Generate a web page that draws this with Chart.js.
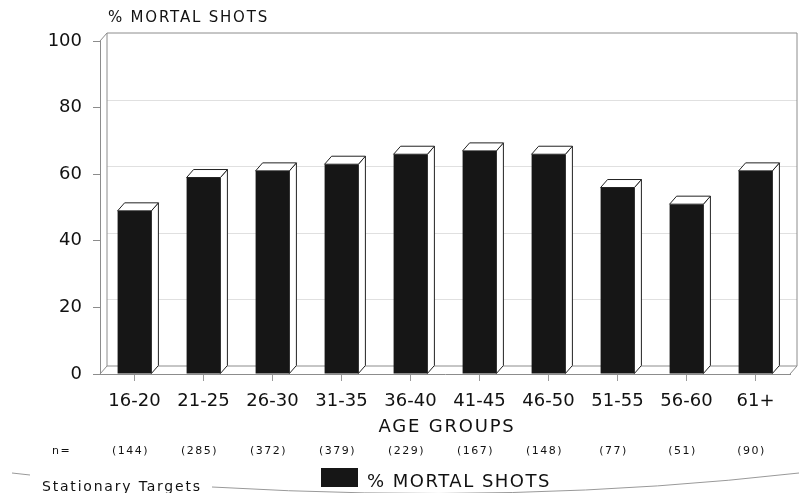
<!DOCTYPE html>
<html>
<head>
<meta charset="utf-8">
<script src="https://cdn.jsdelivr.net/npm/chart.js@4"></script>
<style>
    html, body { margin: 0; padding: 0; background: #fff; }
    canvas { display: block; }
</style>
</head>
<body>
<canvas id="mortalChart" width="799" height="493"></canvas>
<script>
const ageGroups = ["16-20", "21-25", "26-30", "31-35", "36-40", "41-45", "46-50", "51-55", "56-60", "61+"];
const mortalPct = [49, 59, 61, 63, 66, 67, 66, 56, 51, 61];
const sampleSizes = [144, 285, 372, 379, 229, 167, 148, 77, 51, 90];
const gridValues = [20, 40, 60, 80];

const FONT = "DejaVu Sans";
const DX = 7;
const DY = 8;

function spacedText(ctx, text, x, y, size, spacing, align) {
    ctx.font = size + "px '" + FONT + "'";
    ctx.letterSpacing = spacing + "px";
    ctx.textAlign = align || "left";
    ctx.textBaseline = "alphabetic";
    ctx.fillText(text, x, y);
}

const depthPlugin = {
    id: "depth",
    beforeDatasetsDraw(chart) {
        const { ctx, chartArea: a, scales } = chart;
        ctx.save();
        ctx.lineWidth = 1;

        // faint gridlines on the back wall
        ctx.strokeStyle = "#e0e0e0";
        gridValues.forEach((v) => {
            const py = Math.round(scales.y.getPixelForValue(v) - DY) + 0.5;
            ctx.beginPath();
            ctx.moveTo(a.left + DX, py);
            ctx.lineTo(a.right + DX, py);
            ctx.stroke();
        });

        // back wall and floor outline
        ctx.strokeStyle = "#8c8c8c";
        ctx.beginPath();
        ctx.moveTo(a.left, a.top);
        ctx.lineTo(a.left + DX, a.top - DY);
        ctx.lineTo(a.right + DX, a.top - DY);
        ctx.lineTo(a.right + DX, a.bottom - DY);
        ctx.moveTo(a.left + DX, a.top - DY);
        ctx.lineTo(a.left + DX, a.bottom - DY);
        ctx.lineTo(a.right + DX, a.bottom - DY);
        ctx.moveTo(a.left, a.bottom);
        ctx.lineTo(a.left + DX, a.bottom - DY);
        ctx.moveTo(a.right, a.bottom);
        ctx.lineTo(a.right + DX, a.bottom - DY);
        ctx.stroke();
        ctx.restore();
    },
    afterDatasetsDraw(chart) {
        const { ctx } = chart;
        const meta = chart.getDatasetMeta(0);
        ctx.save();
        ctx.lineWidth = 1;
        ctx.strokeStyle = "#222";
        ctx.fillStyle = "#fff";
        meta.data.forEach((bar) => {
            const l = bar.x - bar.width / 2;
            const r = bar.x + bar.width / 2;
            // side face
            ctx.beginPath();
            ctx.moveTo(r, bar.y);
            ctx.lineTo(r + DX, bar.y - DY);
            ctx.lineTo(r + DX, bar.base - DY);
            ctx.lineTo(r, bar.base);
            ctx.closePath();
            ctx.fill();
            ctx.stroke();
            // top face
            ctx.beginPath();
            ctx.moveTo(l, bar.y);
            ctx.lineTo(l + DX, bar.y - DY);
            ctx.lineTo(r + DX, bar.y - DY);
            ctx.lineTo(r, bar.y);
            ctx.closePath();
            ctx.fill();
            ctx.stroke();
        });
        ctx.restore();
    },
    afterDraw(chart) {
        const { ctx, scales } = chart;
        ctx.save();
        ctx.fillStyle = "#111";

        spacedText(ctx, "% MORTAL SHOTS", 108, 22, 15, 1.8);
        spacedText(ctx, "AGE GROUPS", 447, 432, 18, 1.8, "center");

        spacedText(ctx, "n=", 52, 454, 11, 1.5);
        sampleSizes.forEach((n, i) => {
            const px = scales.x.getPixelForValue(i);
            spacedText(ctx, "(" + n + ")", px - 4, 454, 11, 1.5, "center");
        });

        // legend
        ctx.fillStyle = "#161616";
        ctx.fillRect(321, 468, 37, 19);
        ctx.fillStyle = "#111";
        spacedText(ctx, "% MORTAL SHOTS", 367, 487, 18, 1.5);
        spacedText(ctx, "Stationary Targets", 42, 491, 14, 1.8);

        // decorative rule under the footer
        ctx.strokeStyle = "#999";
        ctx.lineWidth = 1;
        ctx.beginPath();
        ctx.moveTo(212, 487);
        ctx.quadraticCurveTo(520, 505, 799, 473);
        ctx.moveTo(12, 473);
        ctx.lineTo(30, 475);
        ctx.stroke();
        ctx.restore();
    },
};

const mortalChart = new Chart(document.getElementById("mortalChart"), {
    type: "bar",
    data: {
        labels: ageGroups,
        datasets: [
            {
                label: "% MORTAL SHOTS",
                data: mortalPct,
                backgroundColor: "#161616",
                borderWidth: 0,
                barPercentage: 0.49,
                categoryPercentage: 1,
            },
        ],
    },
    options: {
        responsive: false,
        animation: false,
        layout: {
            padding: { top: 41, right: 9, bottom: 59, left: 0 },
        },
        plugins: {
            legend: { display: false },
            tooltip: { enabled: false },
        },
        scales: {
            x: {
                afterFit: (scale) => { scale.height = 60; },
                grid: { drawOnChartArea: false, offset: false, tickLength: 7, color: "#999" },
                border: { color: "#8c8c8c" },
                ticks: { font: { family: FONT, size: 18 }, color: "#111", padding: 10 },
            },
            y: {
                min: 0,
                max: 100,
                afterFit: (scale) => { scale.width = 100; },
                grid: { drawOnChartArea: false, tickLength: 7, color: "#8c8c8c" },
                border: { color: "#8c8c8c" },
                ticks: { stepSize: 20, font: { family: FONT, size: 18 }, color: "#111", padding: 11 },
            },
        },
    },
    plugins: [depthPlugin],
});
</script>
</body>
</html>
